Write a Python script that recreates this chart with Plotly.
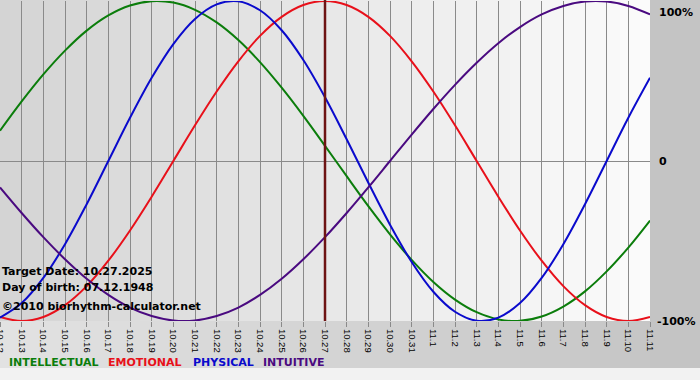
import plotly.graph_objects as go

dates = ["10.12", "10.13", "10.14", "10.15", "10.16", "10.17", "10.18", "10.19", "10.20", "10.21",
         "10.22", "10.23", "10.24", "10.25", "10.26", "10.27", "10.28", "10.29", "10.30", "10.31",
         "11.1", "11.2", "11.3", "11.4", "11.5", "11.6", "11.7", "11.8", "11.9", "11.10", "11.11"]

intellectual = [0.189, 0.372, 0.541, 0.690, 0.815, 0.910, 0.972, 0.999, 0.990, 0.945,
                0.866, 0.756, 0.618, 0.458, 0.282, 0.095, -0.095, -0.282, -0.458, -0.618,
                -0.756, -0.866, -0.945, -0.990, -0.999, -0.972, -0.910, -0.815, -0.690, -0.541, -0.372]
emotional = [-0.975, -1.000, -0.975, -0.901, -0.782, -0.623, -0.434, -0.223, 0.000, 0.223,
             0.434, 0.623, 0.782, 0.901, 0.975, 1.000, 0.975, 0.901, 0.782, 0.623,
             0.434, 0.223, 0.000, -0.223, -0.434, -0.623, -0.782, -0.901, -0.975, -1.000, -0.975]
physical = [-0.979, -0.888, -0.731, -0.520, -0.270, 0.000, 0.270, 0.520, 0.731, 0.888,
            0.979, 0.998, 0.942, 0.817, 0.631, 0.398, 0.136, -0.136, -0.398, -0.631,
            -0.817, -0.942, -0.998, -0.979, -0.888, -0.731, -0.520, -0.270, 0.000, 0.270, 0.520]
intuitive = [-0.165, -0.325, -0.476, -0.614, -0.736, -0.837, -0.916, -0.969, -0.997, -0.997,
             -0.969, -0.916, -0.837, -0.736, -0.614, -0.476, -0.325, -0.165, 0.000, 0.165,
             0.325, 0.476, 0.614, 0.736, 0.837, 0.916, 0.969, 0.997, 0.997, 0.969, 0.916]

target_label = "10.27"
series = [
    ("INTELLECTUAL", intellectual, "#0b7d0b"),
    ("EMOTIONAL", emotional, "#e8101a"),
    ("PHYSICAL", physical, "#0a0acc"),
    ("INTUITIVE", intuitive, "#4a0a80"),
]

idx = list(range(len(dates)))
fig = go.Figure()
for name, vals, col in series:
    fig.add_trace(go.Scatter(x=idx, y=vals, mode="lines", name=name,
                             line=dict(color=col, width=2, shape="spline", smoothing=1.0),
                             cliponaxis=False, hoverinfo="skip"))

W, H = 700, 380
ml, mr, mt, mb = 0, 50, 1, 59
pw, ph = W - ml - mr, H - mt - mb

def px_x(p):
    return (p - ml) / pw

def px_y(p):
    return (H - mb - p) / ph

shapes = []
# plot-area horizontal gradient
n = 65
for k in range(n):
    c = int(round(212 + (251 - 212) * k / (n - 1)))
    shapes.append(dict(type="rect", xref="paper", yref="paper",
                       x0=k / n, x1=(k + 1) / n + 0.002, y0=0, y1=px_y(0),
                       fillcolor=f"rgb({c},{c},{c})", line=dict(width=0), layer="below"))
# bottom band gradient
for k in range(n):
    c = int(round(226 + (198 - 226) * k / (n - 1)))
    shapes.append(dict(type="rect", xref="paper", yref="paper",
                       x0=k / n, x1=(k + 1) / n + 0.002, y0=px_y(368), y1=0,
                       fillcolor=f"rgb({c},{c},{c})", line=dict(width=0), layer="below"))
# right margin strip
shapes.append(dict(type="rect", xref="paper", yref="paper",
                   x0=1, x1=px_x(W), y0=px_y(368), y1=px_y(0),
                   fillcolor="#c4c4c4", line=dict(width=0), layer="below"))
# target date line
ti = dates.index(target_label)
shapes.append(dict(type="line", xref="x", yref="paper", x0=ti, x1=ti, y0=0, y1=px_y(0),
                   line=dict(color="#6e1414", width=2.5), layer="above"))

annotations = []
bold = dict(family="DejaVu Sans", size=11, color="#000000", weight="bold")
for txt, yp in [("Target Date: 10.27.2025", 271), ("Day of birth: 07.12.1948", 287),
                ("©2010 biorhythm-calculator.net", 306)]:
    annotations.append(dict(text=txt, xref="paper", yref="paper", x=px_x(0), y=px_y(yp),
                            xanchor="left", yanchor="middle", showarrow=False, font=bold))

rfont = dict(family="DejaVu Sans", size=11, color="#000000", weight="bold")
for txt, yp in [("100%", 12), ("0", 161), ("-100%", 321)]:
    annotations.append(dict(text=txt, xref="paper", yref="paper", x=px_x(655 if txt == "-100%" else 657),
                            y=px_y(yp), xanchor="left", yanchor="middle", showarrow=False, font=rfont))

for (name, _, col), xp in zip(series, [7, 106, 191, 261]):
    annotations.append(dict(text=name, xref="paper", yref="paper", x=px_x(xp), y=px_y(362),
                            xanchor="left", yanchor="middle", showarrow=False,
                            font=dict(family="DejaVu Sans", size=11, color=col, weight="bold")))

fig.update_layout(
    width=W, height=H,
    margin=dict(l=ml, r=mr, t=mt, b=mb, pad=0),
    paper_bgcolor="#f2f2f2",
    plot_bgcolor="rgba(0,0,0,0)",
    showlegend=False,
    shapes=shapes,
    annotations=annotations,
    xaxis=dict(range=[0, len(dates) - 1], tickmode="array", tickvals=idx, ticktext=dates,
               tickangle=90, showgrid=True, gridcolor="#8a8a8a", gridwidth=1,
               ticks="outside", ticklen=5, tickcolor="#8a8a8a", tickwidth=1,
               tickfont=dict(family="Liberation Sans", size=9.5, color="#000000"),
               zeroline=False, showline=False, fixedrange=True, automargin=False,
               ticklabeloverflow="allow"),
    yaxis=dict(range=[-1, 1], showgrid=False, zeroline=True, zerolinecolor="#8a8a8a",
               zerolinewidth=1, showticklabels=False, fixedrange=True, automargin=False),
)

fig.write_html("out.html", config={"displayModeBar": False},
               post_script="document.body.style.margin='0';document.body.style.padding='0';")
